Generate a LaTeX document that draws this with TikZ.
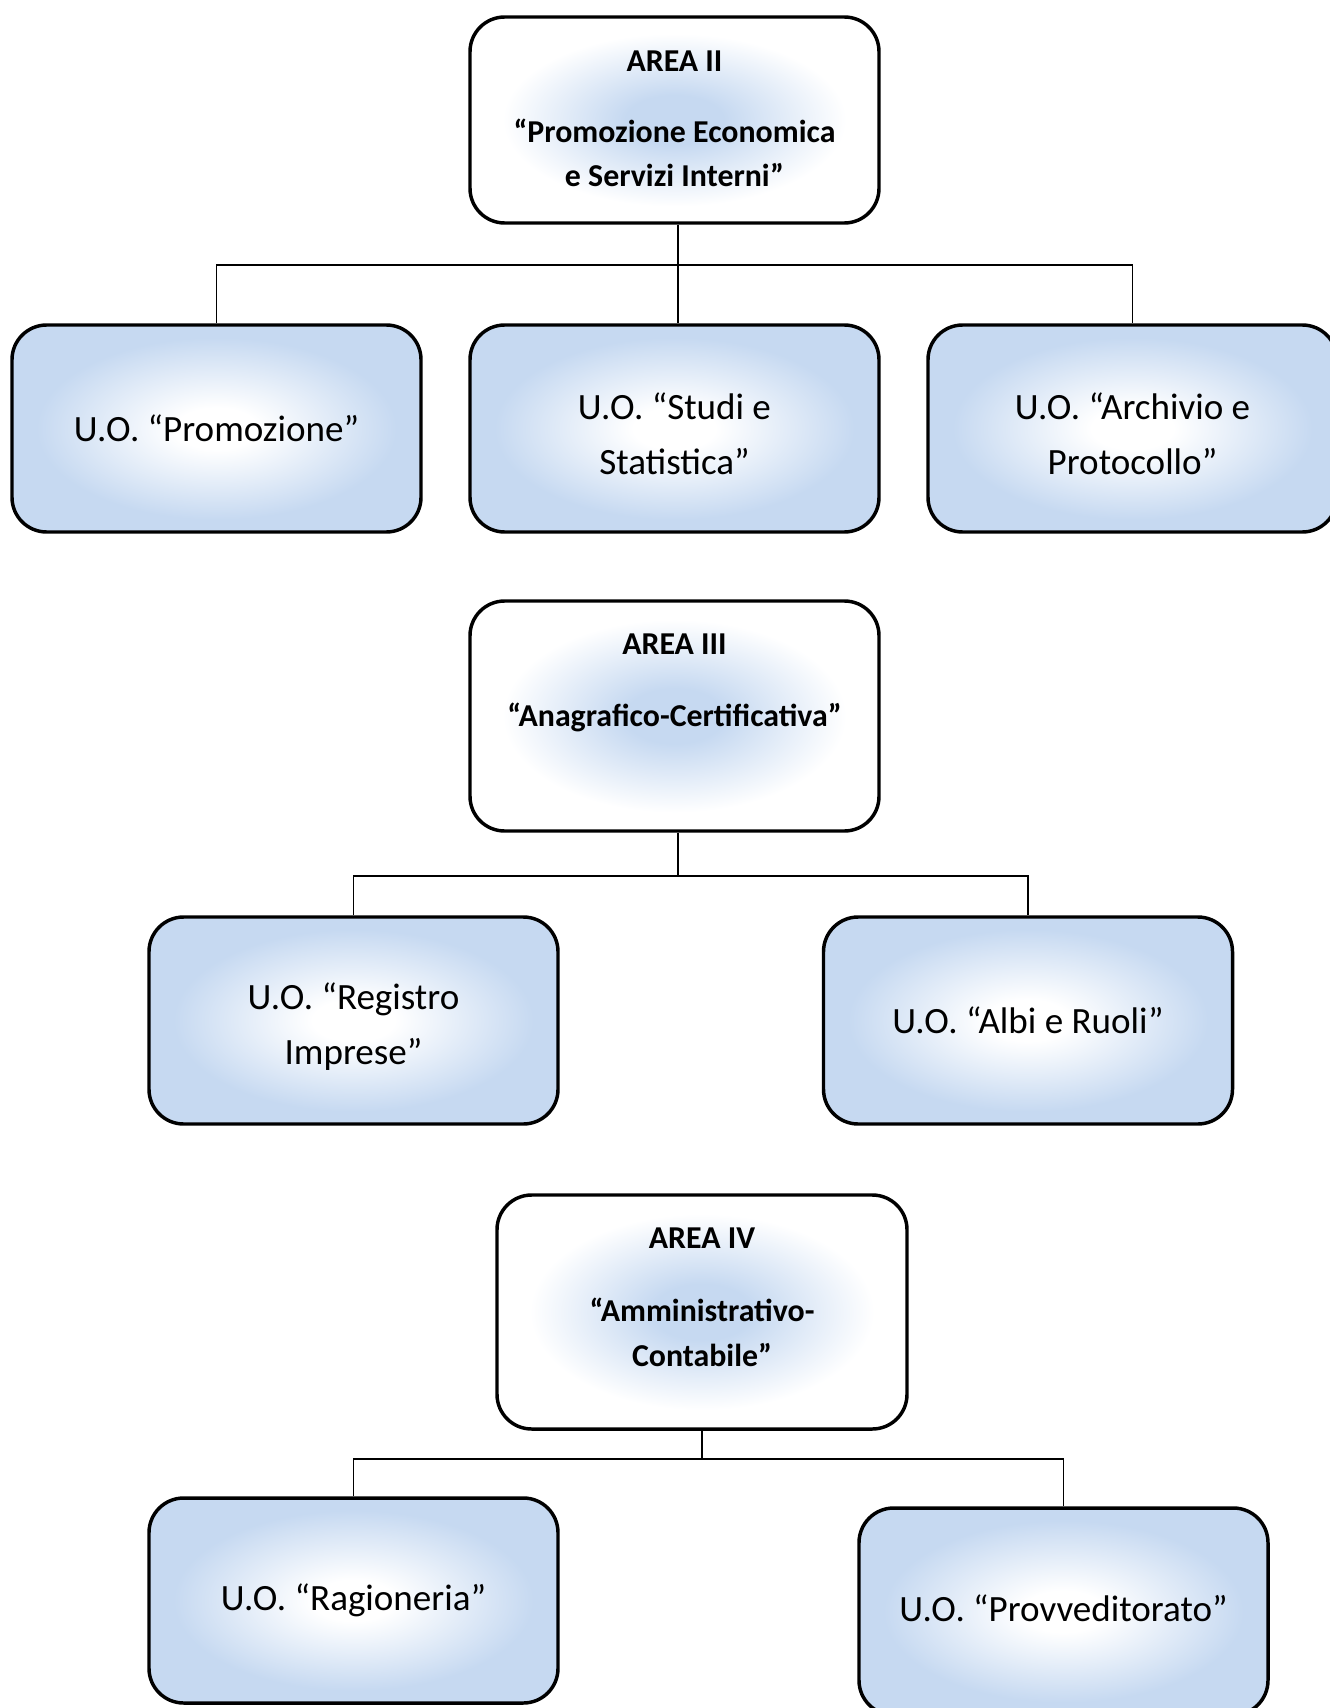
\documentclass[tikz,border=0pt]{standalone}
\usepackage{fontspec}
\setmainfont{Carlito}
\usetikzlibrary{calc}
\definecolor{uoblue}{HTML}{C6D9F1}
\definecolor{areablue}{HTML}{C6D9F1}
\pgfdeclareradialshading{uoshade}{\pgfpoint{0bp}{0bp}}{color(0bp)=(white); color(5bp)=(white); color(22bp)=(uoblue); color(50bp)=(uoblue)}
\pgfdeclareradialshading{areashade}{\pgfpoint{0bp}{0bp}}{color(0bp)=(areablue); color(6bp)=(areablue); color(21bp)=(white); color(50bp)=(white)}
\tikzset{
  boxbase/.style={shape=rectangle, rounded corners=26pt, draw=black, line width=2.6pt, inner sep=0pt, minimum width=306.75pt},
  uobox/.style={boxbase, shading=uoshade, minimum height=155.25pt, align=center, font=\fontsize{27.8}{41}\selectfont},
  uotext/.style={inner sep=0pt, align=center, font=\fontsize{27.8}{41}\selectfont},
  areabox/.style={boxbase, shading=areashade},
  areatxt/.style={anchor=base, inner sep=0pt, font=\fontsize{23.9}{30}\selectfont\bfseries},
  conn/.style={draw=black, line width=1pt}
}
\begin{document}
\begin{tikzpicture}[x=0.75pt, y=-0.75pt]
\fill[white] (0,0) rectangle (1330,1708);
\useasboundingbox (0,0) rectangle (1330,1708);

% AREA II
\node[areabox, minimum height=154.5pt] (A2) at (674.5,120) {};
\node[areatxt] (A2t1) at (674.5,71.5) {AREA II};
\node[areatxt] (A2t2) at (674.5,142.5) {“Promozione Economica};
\node[areatxt] (A2t3) at (674.5,187) {e Servizi Interni”};

\node[uobox] (B1) at (216.5,428.5) {U.O. “Promozione”};
\node[uobox] (B2) at (674.5,428.5) {};
\node[uotext] (B2t) at ($(B2.center)+(0,5.5)$) {U.O. “Studi e\\Statistica”};
\node[uobox] (B3) at (1132.5,428.5) {};
\node[uotext] (B3t) at ($(B3.center)+(0,5.5)$) {U.O. “Archivio e\\Protocollo”};

\coordinate (h1) at (678,265);
\draw[conn] (h1 |- A2.south) -- (h1 |- B2.north);
\draw[conn] (B1.north) |- (h1) -| (B3.north);

% AREA III
\node[areabox, minimum height=172.5pt] (A3) at (674.5,716) {};
\node[areatxt] (A3t1) at (674.5,654) {AREA III};
\node[areatxt] (A3t2) at (674.5,726) {“Anagrafico-Certificativa”};

\node[uobox] (C1) at (353.5,1020.5) {};
\node[uotext] (C1t) at ($(C1.center)+(0,6)$) {U.O. “Registro\\Imprese”};
\node[uobox] (C2) at (1028,1020.5) {U.O. “Albi e Ruoli”};

\coordinate (h2) at (678,876);
\draw[conn] (h2 |- A3.south) -- (h2);
\draw[conn] (C1.north) |- (h2) -| (C2.north);

% AREA IV
\node[areabox, minimum width=307.5pt, minimum height=175.5pt] (A4) at (702,1312) {};
\node[areatxt] (A4t1) at (702,1248) {AREA IV};
\node[areatxt] (A4t2) at (702,1321) {“Amministrativo-};
\node[areatxt] (A4t3) at (702,1366) {Contabile”};

\node[uobox, minimum height=153.75pt] (D1) at (353.5,1600.5) {U.O. “Ragioneria”};
\node[uobox] (D2) at (1063.5,1611.5) {};
\node[uotext] (D2t) at ($(D2.center)+(0,-3)$) {U.O. “Provveditorato”};

\coordinate (h3) at (702,1459);
\draw[conn] (A4.south) -- (h3);
\draw[conn] (D1.north) |- (h3) -| (D2.north);
\end{tikzpicture}
\end{document}
